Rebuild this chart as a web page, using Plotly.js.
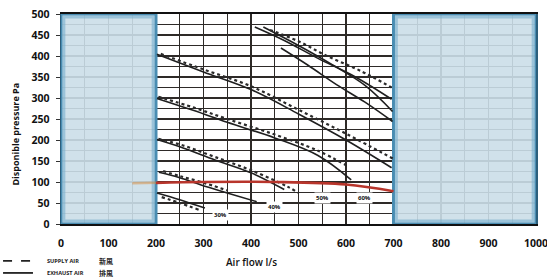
<!DOCTYPE html>
<html>
<head>
<meta charset="utf-8">
<script src="https://cdn.plot.ly/plotly-3.0.1.min.js"></script>
<style>
html,body{margin:0;padding:0;background:#fff;}
#chart{width:547px;height:280px;}
</style>
</head>
<body>
<div id="chart"></div>
<script>
// ---- Axis ticks ----
const flowTicks = [0, 100, 200, 300, 400, 500, 600, 700, 800, 900, 1000];
const paTicks = [0, 50, 100, 150, 200, 250, 300, 350, 400, 450, 500];
const flowMinor = [50, 150, 250, 350, 450, 550, 650, 750, 850, 950];
const paMinor = [25, 75, 125, 175, 225, 275, 325, 375, 425, 475];

// ---- Exhaust air curves (solid) ----
const exA1Flow = [408, 470, 540, 620, 696];
const exA1Pa   = [469, 437, 395, 350, 297];
const exA2Flow = [426, 500, 570, 640, 698];
const exA2Pa   = [469, 425, 380, 330, 268];
const exA3Flow = [463, 520, 580, 640, 698];
const exA3Pa   = [419, 378, 332, 290, 244];
const exBFlow  = [202, 300, 400, 500, 600, 696];
const exBPa    = [404, 362, 320, 262, 200, 134];
const exCFlow  = [202, 280, 350, 450, 541, 611];
const exCPa    = [299, 270, 242, 205, 163, 105];
const exDFlow  = [202, 260, 323, 400, 470];
const exDPa    = [201, 180, 153, 122, 82];
const exEFlow  = [206, 250, 295, 350, 412];
const exEPa    = [123, 110, 93, 74, 53];
const exFFlow  = [202, 250, 303];
const exFPa    = [74, 58, 38];

// ---- Supply air curves (dotted) ----
const suAFlow = [440, 500, 560, 630, 696];
const suAPa   = [462, 435, 400, 365, 325];
const suBFlow = [210, 300, 400, 500, 600, 700];
const suBPa   = [405, 368, 328, 272, 215, 155];
const suCFlow = [205, 280, 350, 450, 540, 600];
const suCPa   = [303, 277, 250, 213, 175, 140];
const suDFlow = [205, 260, 323, 400, 475, 500];
const suDPa   = [203, 186, 160, 128, 90, 74];
const suEFlow = [215, 250, 295, 350];
const suEPa   = [126, 114, 100, 80];
const suFFlow = [212, 250, 290];
const suFPa   = [64, 50, 34];

// ---- Red system curve ----
const redFlow = [200, 300, 450, 600, 700];
const redPa   = [98, 100, 100, 94, 78];
const redLeadFlow = [150, 200];
const redLeadPa   = [97, 98];

// ---- Speed labels ----
const pctLabels = ['30%', '40%', '50%', '60%'];
const pctFlow   = [336, 449, 550, 638];
const pctPa     = [22, 40, 62, 62];

// ---- Shaded (out of range) zones ----
const shadedZones = [[0, 200], [700, 1000]];

const solidStyle = {color: '#1f1f1f', width: 1.6};
const dotStyle = {color: '#2a2a2a', width: 2.2, dash: 'dot'};

function tr(x, y, line, name, opacity) {
  return {x: x, y: y, type: 'scatter', mode: 'lines', line: Object.assign({shape: 'spline'}, line),
          name: name, showlegend: false, hoverinfo: 'x+y', opacity: opacity || 1};
}

const traces = [
  tr(exA1Flow, exA1Pa, solidStyle, 'EXHAUST AIR'),
  tr(exA2Flow, exA2Pa, solidStyle, 'EXHAUST AIR'),
  tr(exA3Flow, exA3Pa, solidStyle, 'EXHAUST AIR'),
  tr(exBFlow, exBPa, solidStyle, 'EXHAUST AIR'),
  tr(exCFlow, exCPa, solidStyle, 'EXHAUST AIR'),
  tr(exDFlow, exDPa, solidStyle, 'EXHAUST AIR'),
  tr(exEFlow, exEPa, solidStyle, 'EXHAUST AIR'),
  tr(exFFlow, exFPa, solidStyle, 'EXHAUST AIR'),
  tr(suAFlow, suAPa, dotStyle, 'SUPPLY AIR'),
  tr(suBFlow, suBPa, dotStyle, 'SUPPLY AIR'),
  tr(suCFlow, suCPa, dotStyle, 'SUPPLY AIR'),
  tr(suDFlow, suDPa, dotStyle, 'SUPPLY AIR'),
  tr(suEFlow, suEPa, dotStyle, 'SUPPLY AIR'),
  tr(suFFlow, suFPa, dotStyle, 'SUPPLY AIR'),
  tr(redLeadFlow, redLeadPa, {color: '#d9822b', width: 2.5}, 'System', 0.45),
  tr(redFlow, redPa, {color: '#b8352b', width: 2.6}, 'System')
];

const shapes = [];
shadedZones.forEach(function (z) {
  shapes.push({type: 'rect', xref: 'x', yref: 'y', x0: z[0], x1: z[1], y0: 0, y1: 500,
               fillcolor: 'rgba(203,222,232,0.9)', line: {color: '#4a8db2', width: 3}, layer: 'between'});
  shapes.push({type: 'rect', xref: 'x', yref: 'y', x0: z[0] + 6, x1: z[1] - 6, y0: 7, y1: 493,
               fillcolor: 'rgba(0,0,0,0)', line: {color: 'rgba(120,175,205,0.6)', width: 3}, layer: 'between'});
});
// legend samples (drawn by hand, like the original print)
shapes.push({type: 'line', xref: 'paper', yref: 'paper', x0: -0.122, x1: -0.059, y0: -0.176, y1: -0.176,
             line: {color: '#222', width: 1.8, dash: 'dash'}});
shapes.push({type: 'line', xref: 'paper', yref: 'paper', x0: -0.122, x1: -0.059, y0: -0.233, y1: -0.233,
             line: {color: '#222', width: 1.8}});

const annotations = [];
pctLabels.forEach(function (t, i) {
  annotations.push({x: pctFlow[i], y: pctPa[i], xref: 'x', yref: 'y', text: t, showarrow: false,
                    font: {family: 'Open Sans, sans-serif', size: 6, color: '#111', weight: 700},
                    bgcolor: '#fff', borderpad: 1});
});
const legendRows = [
  {en: 'SUPPLY AIR', zh: '新風', y: -0.176},
  {en: 'EXHAUST AIR', zh: '排風', y: -0.233}
];
legendRows.forEach(function (r) {
  annotations.push({x: -0.034, y: r.y, xref: 'paper', yref: 'paper', text: r.en, showarrow: false,
                    xanchor: 'left', yanchor: 'middle',
                    font: {family: 'Open Sans, sans-serif', size: 5.6, color: '#222', weight: 700}});
  annotations.push({x: 0.076, y: r.y, xref: 'paper', yref: 'paper', text: r.zh, showarrow: false,
                    xanchor: 'left', yanchor: 'middle',
                    font: {family: 'Noto Sans CJK TC, sans-serif', size: 7, color: '#222', weight: 700}});
});
// axis titles
annotations.push({x: -0.095, y: 0.43, xref: 'paper', yref: 'paper', text: 'Disponible pressure Pa',
                  textangle: -90, showarrow: false, xanchor: 'center', yanchor: 'middle',
                  font: {family: 'Open Sans, sans-serif', size: 9, color: '#111', weight: 700}});
annotations.push({x: 0.4, y: -0.181, xref: 'paper', yref: 'paper', text: 'Air flow l/s', showarrow: false,
                  xanchor: 'center', yanchor: 'middle',
                  font: {family: 'Open Sans, sans-serif', size: 10, color: '#111', weight: 600}});

const layout = {
  width: 547, height: 280,
  margin: {l: 61, r: 11, t: 14, b: 56},
  paper_bgcolor: '#fff', plot_bgcolor: '#fff',
  showlegend: false,
  xaxis: {range: [0, 1000], tickvals: flowTicks, ticktext: flowTicks.map(String),
          showgrid: true,
          gridcolor: '#2e2a28', gridwidth: 1.1, zeroline: false,
          showline: true, linecolor: '#111', linewidth: 2, mirror: true,
          ticks: '', ticklabelstandoff: 8, ticklabeloverflow: 'allow',
          tickfont: {family: 'Open Sans, sans-serif', size: 10.5, color: '#111', weight: 700},
          minor: {tickvals: flowMinor, showgrid: true, gridcolor: '#2e2a28', gridwidth: 1.1}},
  yaxis: {range: [0, 500], tickvals: paTicks, ticktext: paTicks.map(String),
          showgrid: true, gridcolor: '#2e2a28', gridwidth: 1.1, zeroline: false,
          showline: true, linecolor: '#2c5f7c', linewidth: 1.5, mirror: true,
          ticks: 'outside', ticklen: 4, tickcolor: '#333', ticklabelstandoff: 4,
          tickfont: {family: 'Open Sans, sans-serif', size: 10.5, color: '#111', weight: 700},
          minor: {tickvals: paMinor, showgrid: true, gridcolor: '#2e2a28', gridwidth: 1.1}},
  shapes: shapes,
  annotations: annotations
};

Plotly.newPlot('chart', traces, layout, {staticPlot: true, displayModeBar: false});
</script>
</body>
</html>
